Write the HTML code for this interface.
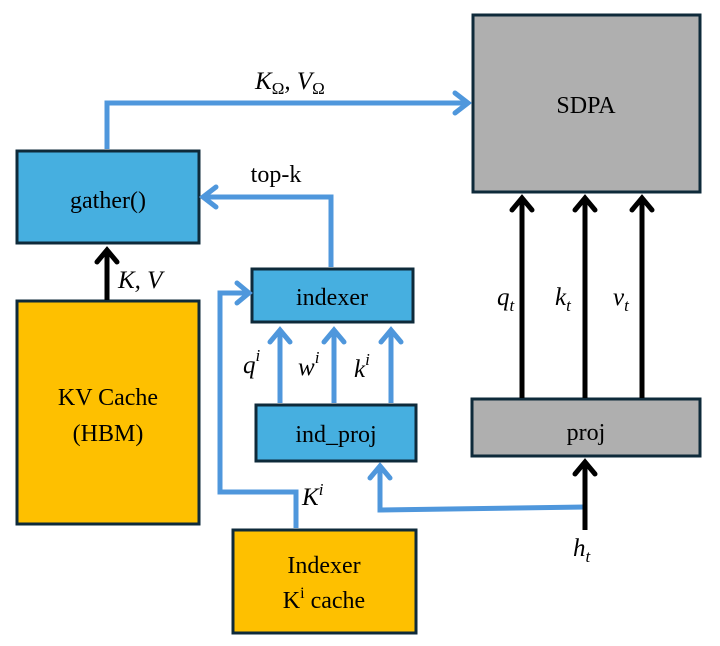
<!DOCTYPE html>
<html><head><style>
body{margin:0;background:#fff;}
svg{display:block;}
svg text, svg tspan{font-family:"Liberation Serif","Times New Roman","DejaVu Serif","Noto Serif CJK SC",serif;}
</style></head><body>
<svg width="720" height="646" viewBox="0 0 720 646" xmlns="http://www.w3.org/2000/svg">
<g stroke="#0e2a3a" stroke-width="3">
<rect x="473" y="15" width="227" height="177" fill="#afafaf"/>
<rect x="17" y="151" width="182" height="92" fill="#46afe0"/>
<rect x="17" y="301" width="182" height="223" fill="#fec000"/>
<rect x="252" y="269" width="161" height="53" fill="#46afe0"/>
<rect x="256" y="405" width="160" height="56" fill="#46afe0"/>
<rect x="472" y="399" width="228" height="57" fill="#afafaf"/>
<rect x="233" y="530" width="183" height="103" fill="#fec000"/>
</g>
<g fill="none" stroke="#4f97dc" stroke-width="5" stroke-linejoin="miter">
<polyline points="107,149 107,103 468,103"/>
<polyline points="455,93 468,103 455,113" stroke-linecap="round"/>
<polyline points="331,267 331,197 203,197"/>
<polyline points="216,187 203,197 216,207" stroke-linecap="round"/>
<line x1="280" y1="403" x2="280" y2="330"/>
<polyline points="270,342 280,330 290,342" stroke-linecap="round"/>
<line x1="334" y1="403" x2="334" y2="330"/>
<polyline points="324,342 334,330 344,342" stroke-linecap="round"/>
<line x1="391" y1="403" x2="391" y2="330"/>
<polyline points="381,342 391,330 401,342" stroke-linecap="round"/>
<polyline points="296,528 296,492 220,492 220,293 248,293"/>
<polyline points="237,283 249,293 237,303" stroke-linecap="round"/>
<polyline points="585,507 380,510 380,466"/>
<polyline points="370,478 380,466 390,478" stroke-linecap="round"/>
</g>
<g fill="none" stroke="#000" stroke-width="5">
<line x1="107" y1="300" x2="107" y2="250"/>
<polyline points="97,262 107,250 117,262" stroke-linecap="round"/>
<line x1="522" y1="398" x2="522" y2="198"/>
<polyline points="512,210 522,198 532,210" stroke-linecap="round"/>
<line x1="585" y1="398" x2="585" y2="198"/>
<polyline points="575,210 585,198 595,210" stroke-linecap="round"/>
<line x1="642" y1="398" x2="642" y2="198"/>
<polyline points="632,210 642,198 652,210" stroke-linecap="round"/>
<line x1="585" y1="530" x2="585" y2="462"/>
<polyline points="575,474 585,462 595,474" stroke-linecap="round"/>
</g>
<g font-size="24" text-anchor="middle" fill="#000">
<text x="586" y="113">SDPA</text>
<text x="108" y="208">gather()</text>
<text x="108" y="405">KV Cache</text>
<text x="108" y="441">(HBM)</text>
<text x="332" y="305">indexer</text>
<text x="336" y="442">ind_proj</text>
<text x="586" y="440">proj</text>
<text x="324" y="573">Indexer</text>
<text x="324" y="608">K<tspan font-size="16" dy="-10">i</tspan><tspan dy="10"> cache</tspan></text>
<text x="276" y="182">top-k</text>
</g>
<g font-size="25" font-style="italic" fill="#000">
<text x="255" y="89">K<tspan font-size="17" dy="5" font-style="normal">Ω</tspan><tspan dy="-5">, V</tspan><tspan font-size="17" dy="5" font-style="normal">Ω</tspan></text>
<text x="118" y="288">K, V</text>
<text x="243" y="373">q<tspan font-size="17" dy="-12">i</tspan></text>
<text x="298" y="375">w<tspan font-size="17" dy="-12">i</tspan></text>
<text x="354" y="377">k<tspan font-size="17" dy="-12">i</tspan></text>
<text x="302" y="505">K<tspan font-size="17" dy="-10">i</tspan></text>
<text x="497" y="305">q<tspan font-size="17" dy="6">t</tspan></text>
<text x="555" y="305">k<tspan font-size="17" dy="6">t</tspan></text>
<text x="613" y="305">v<tspan font-size="17" dy="6">t</tspan></text>
<text x="573" y="556">h<tspan font-size="17" dy="6">t</tspan></text>
</g>
</svg>
</body></html>
